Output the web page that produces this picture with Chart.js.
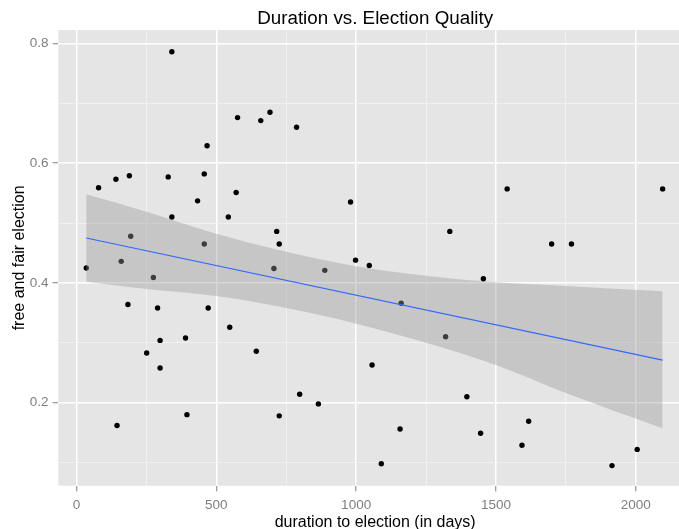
<!DOCTYPE html>
<html>
<head>
<meta charset="utf-8">
<script src="https://cdn.jsdelivr.net/npm/chart.js@4/dist/chart.umd.min.js"></script>
<style>
    html, body { margin: 0; padding: 0; background: #fff; overflow: hidden; }
    #wrap { width: 750px; height: 529px; }
</style>
</head>
<body>
<div id="wrap"><canvas id="durationChart" width="750" height="529"></canvas></div>
<script>
// points
const duration = [341, 79, 141, 189, 328, 457, 467, 576, 659, 692, 787, 571, 433, 341, 543,
    194, 457, 716, 725, 160, 35, 706, 888, 980, 1540, 2096, 1335, 1699, 1770, 998, 1047,
    275, 184, 290, 471, 548, 299, 390, 251, 643, 299, 798, 865, 395, 725, 145, 1455, 1161,
    1320, 1057, 1396, 1617, 1157, 1445, 1593, 2005, 1090, 1915];
const quality = [0.786, 0.559, 0.573, 0.579, 0.577, 0.582, 0.629, 0.676, 0.671, 0.685, 0.660,
    0.551, 0.537, 0.510, 0.510, 0.478, 0.465, 0.486, 0.465, 0.436, 0.425, 0.424, 0.421, 0.535,
    0.557, 0.557, 0.486, 0.465, 0.465, 0.438, 0.429, 0.409, 0.364, 0.358, 0.358, 0.326, 0.304,
    0.308, 0.283, 0.286, 0.258, 0.214, 0.198, 0.180, 0.178, 0.162, 0.407, 0.366, 0.310, 0.263,
    0.210, 0.169, 0.156, 0.149, 0.129, 0.122, 0.098, 0.095];

// fitted line and its confidence band
const fitX = [35, 2096];
const fitY = [0.475, 0.271];
const bandX = [35, 250, 500, 750, 1000, 1250, 1500, 1750, 2096];
const bandUpper = [0.548, 0.519, 0.482, 0.452, 0.428, 0.412, 0.401, 0.395, 0.386];
const bandLower = [0.402, 0.390, 0.378, 0.358, 0.332, 0.300, 0.263, 0.216, 0.157];

// axes
const xTicks = [0, 250, 500, 750, 1000, 1250, 1500, 1750, 2000];
const xLabels = [0, 500, 1000, 1500, 2000];
const yTicks = [0.1, 0.2, 0.3, 0.4, 0.5, 0.6, 0.7, 0.8];
const yLabels = [0.2, 0.4, 0.6, 0.8];

function toPoints(xs, ys) {
    return xs.map((x, i) => ({ x: x, y: ys[i] }));
}

const panelBackground = {
    id: 'panelBackground',
    afterLayout(chart) {
        // centre the title over the panel, not over the whole canvas
        if (chart.titleBlock) chart.titleBlock.left = chart.chartArea.left;
    },
    beforeDraw(chart) {
        const { ctx, chartArea } = chart;
        ctx.save();
        ctx.fillStyle = '#E5E5E5';
        ctx.fillRect(chartArea.left, chartArea.top, chartArea.right - chartArea.left, chartArea.bottom - chartArea.top);
        ctx.restore();
    }
};

function gridFor(labels) {
    const isMajor = ctx => ctx.tick && labels.includes(ctx.tick.value);
    return {
        color: ctx => isMajor(ctx) ? '#FFFFFF' : '#F2F2F2',
        lineWidth: ctx => isMajor(ctx) ? 1.5 : 0.8,
        tickColor: ctx => isMajor(ctx) ? '#7F7F7F' : 'rgba(0,0,0,0)',
        tickWidth: 1,
        tickLength: 5.7,
        drawTicks: true
    };
}

const tickFont = { family: 'Liberation Sans, Arial, sans-serif', size: 13.5 };
const titleFont = { family: 'Liberation Sans, Arial, sans-serif', size: 16 };

new Chart(document.getElementById('durationChart'), {
    type: 'line',
    data: {
        datasets: [
            {
                label: 'fit',
                data: toPoints(fitX, fitY),
                borderColor: '#3366FF',
                borderWidth: 1.2,
                pointRadius: 0,
                fill: false
            },
            {
                label: 'upper',
                data: toPoints(bandX, bandUpper),
                borderWidth: 0,
                borderColor: 'rgba(0,0,0,0)',
                backgroundColor: 'rgba(153,153,153,0.4)',
                pointRadius: 0,
                cubicInterpolationMode: 'monotone',
                fill: '+1'
            },
            {
                label: 'lower',
                data: toPoints(bandX, bandLower),
                borderWidth: 0,
                borderColor: 'rgba(0,0,0,0)',
                pointRadius: 0,
                cubicInterpolationMode: 'monotone',
                fill: false
            },
            {
                label: 'elections',
                data: toPoints(duration, quality),
                showLine: false,
                pointRadius: 2.7,
                pointBorderWidth: 0,
                pointBackgroundColor: '#000000',
                pointBorderColor: '#000000'
            }
        ]
    },
    options: {
        responsive: false,
        animation: false,
        devicePixelRatio: 1,
        layout: { padding: { left: 0, right: 58, top: 0, bottom: 0 } },
        plugins: {
            legend: { display: false },
            tooltip: { enabled: false },
            title: {
                display: true,
                text: 'Duration vs. Election Quality',
                color: '#000000',
                font: { family: 'Liberation Sans, Arial, sans-serif', size: 18.8, weight: 'normal', lineHeight: 1.2 },
                padding: { top: 7.5, bottom: 0 }
            }
        },
        scales: {
            x: {
                type: 'linear',
                min: -65,
                max: 2201,
                border: { display: false },
                grid: gridFor(xLabels),
                afterBuildTicks: scale => { scale.ticks = xTicks.map(v => ({ value: v })); },
                afterFit: scale => { scale.height = 43.3; },
                ticks: {
                    autoSkip: false,
                    maxRotation: 0,
                    padding: 5.6,
                    color: '#7F7F7F',
                    font: tickFont,
                    callback: value => xLabels.includes(value) ? String(value) : ''
                },
                title: {
                    display: true,
                    text: 'duration to election (in days)',
                    color: '#000000',
                    font: Object.assign({ lineHeight: 0.8 }, titleFont),
                    padding: { top: 0, bottom: 0 }
                }
            },
            y: {
                type: 'linear',
                min: 0.0614,
                max: 0.8222,
                border: { display: false },
                grid: gridFor(yLabels),
                afterBuildTicks: scale => { scale.ticks = yTicks.map(v => ({ value: v })); },
                afterFit: scale => { scale.width = 58.3; },
                ticks: {
                    autoSkip: false,
                    padding: 4.1,
                    color: '#7F7F7F',
                    font: tickFont,
                    callback: value => yLabels.includes(value) ? value.toFixed(1) : ''
                },
                title: {
                    display: true,
                    text: 'free and fair election',
                    color: '#000000',
                    font: Object.assign({ lineHeight: 1.2 }, titleFont),
                    padding: { top: 10, bottom: 0 }
                }
            }
        }
    },
    plugins: [panelBackground]
});
</script>
</body>
</html>
